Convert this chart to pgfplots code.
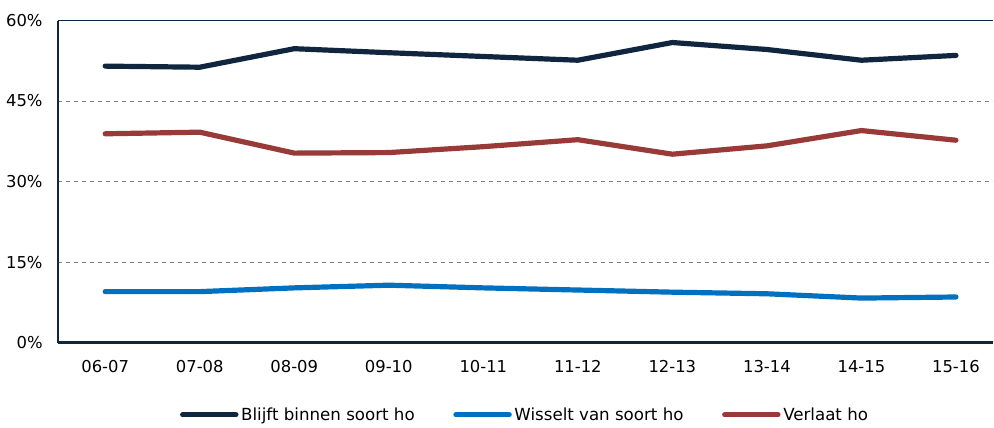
\documentclass[border=0pt]{standalone}
\usepackage{pgfplots}
\pgfplotsset{compat=1.18}
\usepackage{fontspec}
\setmainfont{DejaVu Sans}
\definecolor{navy}{HTML}{10263F}
\definecolor{lblue}{HTML}{0070C0}
\definecolor{dred}{HTML}{983A38}
\begin{document}
\begin{tikzpicture}
\begin{axis}[
  scale only axis,
  width=702pt, height=241.9pt,
  xmin=-0.5, xmax=9.39,
  ymin=0, ymax=60,
  axis x line*=bottom, axis y line*=left,
  axis line style={navy, line width=1.8pt, -},
  xtick={0,...,9},
  xticklabels={06-07,07-08,08-09,09-10,10-11,11-12,12-13,13-14,14-15,15-16},
  ytick={0,15,30,45},
  yticklabels={0\%,15\%,30\%,45\%},
  extra y ticks={60},
  extra y tick labels={60\%},
  extra y tick style={grid style={solid, navy, line width=1.4pt}},
  ymajorgrids,
  grid style={dashed, gray, line width=0.5pt},
  major tick length=0pt,
  tick label style={font=\fontsize{12.3}{14}\selectfont, text=black},
  yticklabel style={xshift=-8pt},
  xticklabel style={yshift=-10pt},
  clip=false,
  legend columns=3,
  legend style={draw=none, at={(0.5,-0.224)}, anchor=center, font=\fontsize{12.5}{14}\selectfont,
    /tikz/every even column/.append style={column sep=27pt}},
  legend image code/.code={\draw[#1, line width=3.9pt, line cap=round] (0pt,0pt) -- (40pt,0pt);},
  every axis plot/.append style={line width=3.9pt, line join=round, line cap=round},
]
\addplot[navy] coordinates {(0,51.5) (1,51.3) (2,54.75) (3,54.0) (4,53.3) (5,52.6) (6,55.9) (7,54.6) (8,52.6) (9,53.5)};
\addlegendentry{Blijft binnen soort ho}
\addplot[lblue] coordinates {(0,9.5) (1,9.5) (2,10.2) (3,10.7) (4,10.2) (5,9.8) (6,9.4) (7,9.1) (8,8.3) (9,8.5)};
\addlegendentry{Wisselt van soort ho}
\addplot[dred] coordinates {(0,38.9) (1,39.2) (2,35.3) (3,35.4) (4,36.5) (5,37.8) (6,35.1) (7,36.65) (8,39.5) (9,37.7)};
\addlegendentry{Verlaat ho}
\path (rel axis cs:0,0) ++(-43.5pt,-60pt);
\path (rel axis cs:1,1) ++(0pt,15.4pt);
\end{axis}
\end{tikzpicture}
\end{document}
